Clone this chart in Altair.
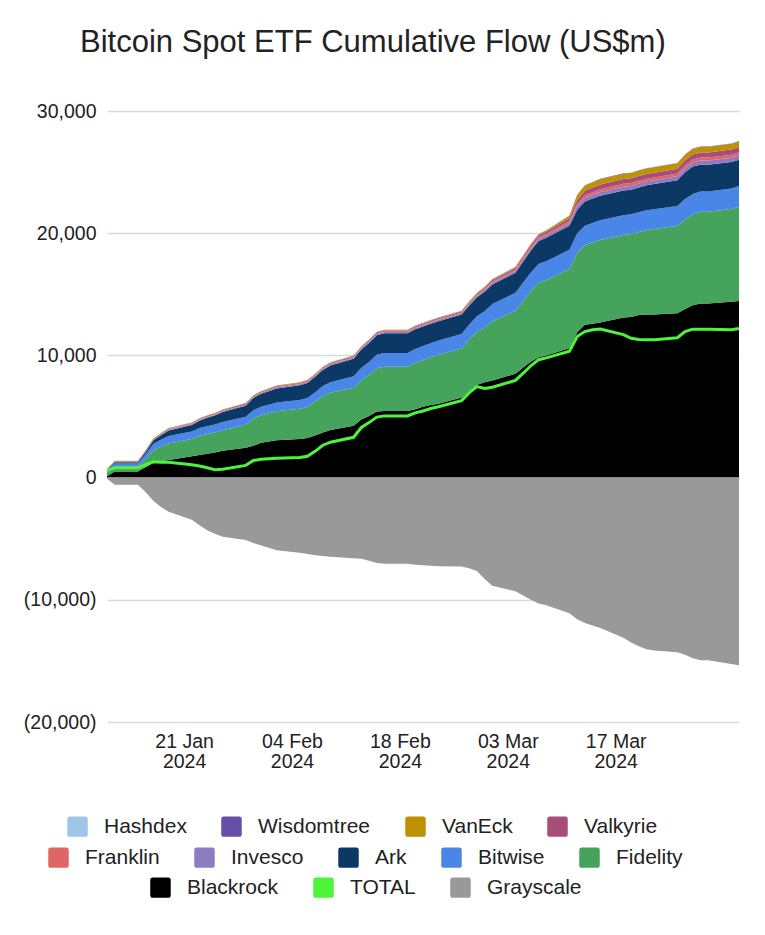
import altair as alt
import pandas as pd

# weekday rows of the sheet (holidays carried with zero flow)
dates = [
    "2024-01-11", "2024-01-12", "2024-01-15", "2024-01-16", "2024-01-17", "2024-01-18",
    "2024-01-19", "2024-01-22", "2024-01-23", "2024-01-24", "2024-01-25", "2024-01-26",
    "2024-01-29", "2024-01-30", "2024-01-31", "2024-02-01", "2024-02-02", "2024-02-05",
    "2024-02-06", "2024-02-07", "2024-02-08", "2024-02-09", "2024-02-12", "2024-02-13",
    "2024-02-14", "2024-02-15", "2024-02-16", "2024-02-19", "2024-02-20", "2024-02-21",
    "2024-02-22", "2024-02-23", "2024-02-26", "2024-02-27", "2024-02-28", "2024-02-29",
    "2024-03-01", "2024-03-04", "2024-03-05", "2024-03-06", "2024-03-07", "2024-03-08",
    "2024-03-11", "2024-03-12", "2024-03-13", "2024-03-14", "2024-03-15", "2024-03-18",
    "2024-03-19", "2024-03-20", "2024-03-21", "2024-03-22", "2024-03-25", "2024-03-26",
    "2024-03-27", "2024-03-28", "2024-03-29", "2024-04-01", "2024-04-02",
]

# cumulative flows, US$m
blackrock = [110, 500, 500, 850, 1200, 1350, 1450, 1750, 1850, 1950, 2050, 2200, 2450, 2600, 2850,
             2950, 3050, 3150, 3250, 3450, 3700, 3900, 4250, 4750, 5050, 5400, 5450, 5450, 5600, 5800,
             5950, 6050, 6550, 7100, 7600, 7800, 7950, 8500, 9000, 9500, 9850, 10000, 10600, 11900,
             12500, 12600, 12700, 13100, 13150, 13300, 13350, 13350, 13450, 13800, 14100, 14250,
             14250, 14400, 14450]
fidelity = [240, 410, 410, 650, 1030, 1180, 1350, 1410, 1570, 1620, 1640, 1680, 1860, 2240, 2260,
            2320, 2380, 2480, 2530, 2770, 3000, 3050, 3100, 3210, 3350, 3550, 3630, 3630, 3800, 3820,
            3900, 4000, 4010, 4200, 4330, 4490, 4850, 5160, 5460, 5760, 6100, 6160, 6480, 6490,
            6520, 6630, 6740, 6750, 6780, 6800, 6890, 6990, 7140, 7340, 7440, 7500, 7500, 7580, 7720]
bitwise = [238, 241, 241, 400, 520, 560, 600, 620, 630, 640, 650, 660, 670, 680, 690, 700, 710, 730,
           740, 760, 790, 850, 950, 1020, 1070, 1100, 1120, 1120, 1130, 1140, 1150, 1160, 1190, 1230,
           1270, 1330, 1400, 1460, 1500, 1520, 1530, 1540, 1560, 1580, 1590, 1600, 1610, 1620, 1620,
           1620, 1630, 1630, 1640, 1650, 1660, 1670, 1670, 1680, 1690]
ark = [65, 110, 110, 180, 280, 380, 460, 520, 600, 680, 740, 820, 900, 1000, 1060, 1100, 1150, 1200,
       1230, 1270, 1320, 1380, 1420, 1500, 1550, 1600, 1620, 1620, 1620, 1610, 1600, 1590, 1590, 1560,
       1560, 1580, 1610, 1650, 1720, 1800, 1880, 1920, 1960, 1950, 1980, 2000, 2010, 2020, 2000,
       2030, 2050, 2050, 2100, 2200, 2250, 2180, 2180, 2170, 2160]
invesco = [17, 30, 30, 40, 50, 55, 60, 65, 65, 70, 70, 72, 74, 76, 78, 78, 80, 82, 83, 84, 85, 86, 88,
           89, 90, 92, 93, 93, 95, 96, 97, 98, 99, 105, 115, 125, 135, 145, 160, 175, 180, 190, 230,
           280, 300, 310, 315, 320, 320, 318, 318, 318, 322, 330, 335, 340, 340, 345, 348]
franklin = [5, 15, 15, 20, 25, 28, 30, 32, 33, 35, 36, 37, 38, 39, 40, 40, 41, 43, 44, 45, 46, 47, 49,
            50, 52, 54, 55, 55, 56, 57, 58, 59, 60, 65, 75, 85, 95, 105, 115, 125, 130, 140, 170, 200,
            215, 220, 225, 228, 228, 226, 226, 226, 230, 238, 243, 248, 248, 252, 255]
valkyrie = [10, 40, 40, 50, 55, 55, 56, 58, 58, 60, 60, 61, 62, 63, 64, 64, 65, 66, 66, 67, 68, 68, 69,
            70, 71, 72, 73, 73, 75, 76, 77, 78, 80, 88, 100, 115, 125, 130, 140, 150, 155, 165, 220,
            330, 370, 380, 385, 390, 390, 388, 388, 388, 395, 405, 415, 420, 420, 425, 428]
vaneck = [10, 30, 30, 35, 38, 38, 38, 39, 39, 39, 39, 39, 39, 39, 40, 40, 41, 42, 43, 43, 44, 45, 46,
          47, 48, 49, 50, 50, 52, 53, 54, 55, 56, 58, 62, 66, 70, 75, 80, 85, 90, 100, 200, 390, 420,
          430, 435, 440, 440, 438, 438, 438, 440, 445, 450, 455, 455, 460, 462]
wisdomtree = [1, 3, 3, 4, 5, 5, 6, 6, 7, 7, 8, 8, 9, 9, 10, 10, 11, 11, 12, 12, 13, 13, 14, 14, 15, 15,
              16, 16, 16, 17, 17, 18, 18, 19, 20, 21, 22, 22, 23, 24, 24, 25, 25, 26, 26, 27, 27, 28,
              28, 28, 28, 29, 29, 29, 30, 30, 30, 30, 31]
hashdex = [0, 0, 0, 0, 0, 0, 0, 0, 0, 0, 0, 0, 0, 0, 0, 1, 1, 1, 1, 2, 2, 2, 2, 3, 3, 3, 3, 3, 4, 4,
           4, 4, 5, 5, 5, 6, 6, 6, 7, 7, 7, 7, 8, 8, 8, 8, 8, 9, 9, 9, 9, 9, 9, 9, 10, 10, 10, 10, 10]
grayscale = [-95, -580, -580, -1180, -1900, -2400, -2800, -3450, -3900, -4300, -4600, -4850, -5100,
             -5350, -5550, -5750, -5950, -6150, -6250, -6350, -6420, -6480, -6600, -6650, -6800,
             -6980, -7060, -7060, -7130, -7170, -7220, -7260, -7280, -7420, -7650, -8300, -8850,
             -9300, -9650, -10000, -10300, -10450, -11100, -11600, -11900, -12100, -12300, -13100,
             -13500, -13800, -14050, -14150, -14300, -14500, -14780, -14950, -14950, -15250, -15350]
total = [600, 800, 800, 1050, 1300, 1250, 1250, 1050, 950, 800, 650, 680, 1000, 1400, 1500, 1550,
         1580, 1650, 1750, 2150, 2650, 2900, 3300, 4100, 4500, 4950, 5050, 5050, 5300, 5450, 5650,
         5800, 6300, 6950, 7450, 7300, 7400, 7950, 8550, 9150, 9650, 9800, 10350, 11550, 11950,
         12100, 12150, 11700, 11400, 11300, 11280, 11280, 11450, 11950, 12150, 12150, 12150, 12100,
         12200]

# stacking order, bottom first
funds = ["Blackrock", "Fidelity", "Bitwise", "Ark", "Invesco", "Franklin",
         "Valkyrie", "VanEck", "Wisdomtree", "Hashdex", "Grayscale"]
fund_values = [blackrock, fidelity, bitwise, ark, invesco, franklin,
               valkyrie, vaneck, wisdomtree, hashdex, grayscale]

colors = {
    "Hashdex": "#9fc5e8", "Wisdomtree": "#674ea7", "VanEck": "#bf9000", "Valkyrie": "#a64d79",
    "Franklin": "#e06666", "Invesco": "#8e7cc3", "Ark": "#0c3866", "Bitwise": "#4a86e8",
    "Fidelity": "#45a35b", "Blackrock": "#000000", "TOTAL": "#4cf53a", "Grayscale": "#999999",
}

legend_rows = [
    ["Hashdex", "Wisdomtree", "VanEck", "Valkyrie"],
    ["Franklin", "Invesco", "Ark", "Bitwise", "Fidelity"],
    ["Blackrock", "TOTAL", "Grayscale"],
]

rows = []
for rank, (fund, values) in enumerate(zip(funds, fund_values)):
    for d, v in zip(dates, values):
        rows.append({"date": d, "fund": fund, "flow": v, "rank": rank})
df = pd.DataFrame(rows)
total_df = pd.DataFrame({"date": dates, "flow": total})

FONT = "Liberation Sans"

x_scale = alt.Scale(type="utc", domain=[alt.DateTime(year=2024, month=1, date=11, utc=True),
                                        alt.DateTime(year=2024, month=4, date=2, utc=True)])
y_scale = alt.Scale(domain=[-20000, 30000], nice=False)

x_axis = alt.Axis(
    values=[alt.DateTime(year=2024, month=m, date=d, utc=True)
            for m, d in [(1, 21), (2, 4), (2, 18), (3, 3), (3, 17)]],
    labelExpr="[utcFormat(datum.value, '%d %b'), utcFormat(datum.value, '%Y')]",
    title=None, grid=False, ticks=False, domain=False,
    labelFont=FONT, labelFontSize=19.5, labelLineHeight=20, labelPadding=10, labelColor="#222",
)
y_axis = alt.Axis(
    values=[-20000, -10000, 0, 10000, 20000, 30000],
    labelExpr="datum.value < 0 ? '(' + format(-datum.value, ',') + ')' : format(datum.value, ',')",
    title=None, ticks=False, domain=False, gridColor="#d9d9d9", gridWidth=1.5,
    labelFont=FONT, labelFontSize=19.5, labelPadding=11, labelColor="#222",
)

areas = alt.Chart(df).mark_area(opacity=1, interpolate="linear").encode(
    x=alt.X("date:T", scale=x_scale, axis=x_axis),
    y=alt.Y("flow:Q", stack="zero", scale=y_scale, axis=y_axis),
    color=alt.Color("fund:N", scale=alt.Scale(domain=funds, range=[colors[f] for f in funds]),
                    legend=None),
    order=alt.Order("rank:Q", sort="ascending"),
)

total_line = alt.Chart(total_df).mark_line(color=colors["TOTAL"], strokeWidth=3).encode(
    x="date:T",
    y="flow:Q",
)

rounded = "M-0.75,-1H0.75Q1,-1 1,-0.75V0.75Q1,1 0.75,1H-0.75Q-1,1 -1,0.75V-0.75Q-1,-1 -0.75,-1Z"
legend_pos = [(-40, 705), (-59, 736), (43, 766)]

legend_layers = []
for row, (lx, ly) in zip(legend_rows, legend_pos):
    legend_layers.append(
        alt.Chart(pd.DataFrame({"fund": pd.Series([], dtype=str)})).mark_square(opacity=1).encode(
            color=alt.Color("fund:N",
                            scale=alt.Scale(domain=row, range=[colors[f] for f in row]),
                            legend=alt.Legend(
                                orient="none", legendX=lx, legendY=ly, direction="horizontal",
                                columns=len(row), title=None, symbolType=rounded, symbolSize=420,
                                symbolStrokeWidth=0, labelFont=FONT, labelFontSize=21,
                                labelColor="#222", labelOffset=16, columnPadding=34, padding=0,
                            ))
        )
    )

chart = alt.layer(areas, total_line, *legend_layers).resolve_scale(
    color="independent"
).properties(
    width=632,
    height=611,
    autosize=alt.AutoSizeParams(type="none"),
    padding={"left": 99, "top": 103, "right": 18, "bottom": 190},
    title=alt.TitleParams(
        text="Bitcoin Spot ETF Cumulative Flow (US$m)",
        font=FONT, fontSize=31, fontWeight="normal", color="#222",
        anchor="start", frame="group", dx=-27, offset=42,
    ),
).configure_view(stroke=None)

chart.save("out.html", embed_options={"renderer": "svg", "actions": False})
